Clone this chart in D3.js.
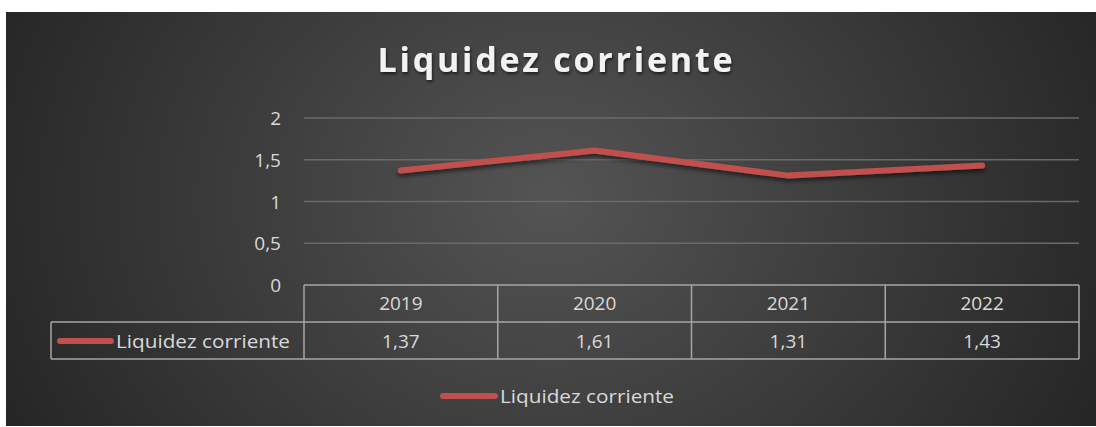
<!DOCTYPE html>
<html>
<head>
<meta charset="utf-8">
<script src="https://cdn.jsdelivr.net/npm/d3@7"></script>
<style>
body{margin:0;background:#fff;}
svg{display:block;}
text{font-family:"Open Sans",sans-serif;}
</style>
</head>
<body>
<div id="chart"></div>
<script>
var years=["2019","2020","2021","2022"];
var liquidez=[1.37,1.61,1.31,1.43];
var yTicks=[0,0.5,1,1.5,2];
var seriesName="Liquidez corriente";
var title="Liquidez corriente";

var width=1096,height=427;
var svg=d3.select("#chart").append("svg").attr("width",width).attr("height",height);
var defs=svg.append("defs");

var grad=defs.append("radialGradient").attr("id","bg")
.attr("cx","50%").attr("cy","45%").attr("r","55%").attr("fx","50%").attr("fy","45%")
.attr("gradientTransform","translate(0.5,0.45) scale(1,2.2) translate(-0.5,-0.45)");
grad.append("stop").attr("offset","0%").attr("stop-color","#545454");
grad.append("stop").attr("offset","100%").attr("stop-color","#262626");

var sh=defs.append("filter").attr("id","shadow").attr("x","-5%").attr("y","-50%").attr("width","110%").attr("height","200%");
sh.append("feDropShadow").attr("dx",0).attr("dy",3).attr("stdDeviation",2).attr("flood-color","#000").attr("flood-opacity",0.55);

var tsh=defs.append("filter").attr("id","tshadow").attr("x","-5%").attr("y","-30%").attr("width","110%").attr("height","160%");
tsh.append("feDropShadow").attr("dx",1).attr("dy",2).attr("stdDeviation",1.5).attr("flood-color","#000").attr("flood-opacity",0.6);

svg.append("rect").attr("x",6).attr("y",12).attr("width",width-6).attr("height",414).attr("fill","url(#bg)");

var x=d3.scaleBand().domain(years).range([304,1079]);
var y=d3.scaleLinear().domain([0,2]).range([285,118]);

// title
svg.append("text").attr("x",555).attr("y",72).attr("text-anchor","middle")
.attr("font-size",34).attr("font-weight","bold").attr("fill","#f2f2f2")
.attr("textLength",355).attr("lengthAdjust","spacing")
.attr("filter","url(#tshadow)").text(title);

// grid
svg.append("g").selectAll("line").data(yTicks.filter(d=>d>0)).enter().append("line")
.attr("x1",304).attr("x2",1079)
.attr("y1",d=>y(d)).attr("y2",d=>y(d))
.attr("stroke","#6a6a6a").attr("stroke-width",1.3);

// y axis labels
var fmt=d=>String(d).replace(".",",");
svg.append("g").selectAll("text").data(yTicks).enter().append("text")
.attr("x",281).attr("y",d=>y(d)+7).attr("text-anchor","end")
.attr("font-size",19).attr("fill","#d9d9d9").text(fmt);

// line
var line=d3.line().x((d,i)=>x(years[i])+x.bandwidth()/2).y(d=>y(d));
svg.append("path").datum(liquidez).attr("d",line)
.attr("fill","none").attr("stroke","#c0504d").attr("stroke-width",6)
.attr("stroke-linecap","round").attr("stroke-linejoin","round")
.attr("filter","url(#shadow)");

// data table
var rowTop=285,rowMid=322,rowBot=359,tableLeft=51;
var tc="#a6a6a6";
var tg=svg.append("g").attr("stroke",tc).attr("stroke-width",1.5).attr("fill","none");
tg.append("line").attr("x1",304).attr("x2",1079).attr("y1",rowTop).attr("y2",rowTop);
tg.append("line").attr("x1",tableLeft).attr("x2",1079).attr("y1",rowMid).attr("y2",rowMid);
tg.append("line").attr("x1",tableLeft).attr("x2",1079).attr("y1",rowBot).attr("y2",rowBot);
tg.append("line").attr("x1",tableLeft).attr("x2",tableLeft).attr("y1",rowMid).attr("y2",rowBot);
tg.selectAll("line.v").data(years.concat(["end"])).enter().append("line")
.attr("x1",(d,i)=>i<years.length?x(d):x.range()[1])
.attr("x2",(d,i)=>i<years.length?x(d):x.range()[1])
.attr("y1",rowTop).attr("y2",rowBot);

svg.append("g").selectAll("text").data(years).enter().append("text")
.attr("x",d=>x(d)+x.bandwidth()/2).attr("y",310).attr("text-anchor","middle")
.attr("font-size",19).attr("fill","#d9d9d9").text(d=>d);

svg.append("g").selectAll("text").data(liquidez).enter().append("text")
.attr("x",(d,i)=>x(years[i])+x.bandwidth()/2).attr("y",348).attr("text-anchor","middle")
.attr("font-size",19).attr("fill","#d9d9d9").text(d=>d.toFixed(2).replace(".",","));

// legend key in table
svg.append("line").attr("x1",60).attr("x2",111).attr("y1",341).attr("y2",341)
.attr("stroke","#c0504d").attr("stroke-width",6).attr("stroke-linecap","round");
svg.append("text").attr("x",116).attr("y",348).attr("font-size",19).attr("fill","#d9d9d9")
.attr("textLength",174).attr("lengthAdjust","spacingAndGlyphs").text(seriesName);

// bottom legend
svg.append("line").attr("x1",443).attr("x2",495).attr("y1",396).attr("y2",396)
.attr("stroke","#c0504d").attr("stroke-width",6).attr("stroke-linecap","round");
svg.append("text").attr("x",500).attr("y",403).attr("font-size",19).attr("fill","#d9d9d9")
.attr("textLength",174).attr("lengthAdjust","spacingAndGlyphs").text(seriesName);
</script>
</body>
</html>
